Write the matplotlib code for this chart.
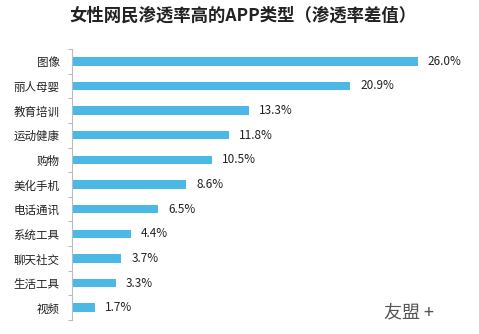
import matplotlib
matplotlib.use("Agg")
import matplotlib.pyplot as plt

plt.rcParams['font.family'] = ['Noto Sans CJK SC', 'DejaVu Sans']

# 女性网民渗透率高的APP类型
categories = ['图像', '丽人母婴', '教育培训', '运动健康', '购物', '美化手机',
              '电话通讯', '系统工具', '聊天社交', '生活工具', '视频']
values = [26.0, 20.9, 13.3, 11.8, 10.5, 8.6, 6.5, 4.4, 3.7, 3.3, 1.7]

bar_color = '#4cb8e6'

fig = plt.figure(figsize=(4.79, 3.34), dpi=100)
ax = fig.add_axes([72 / 479, 14 / 334, 400 / 479, 271 / 334])

y = list(range(len(categories)))
ax.barh(y, values, height=0.34, color=bar_color)
ax.set_ylim(len(categories) - 0.5, -0.5)
ax.set_xlim(0, 30.07)

for yi, v in zip(y, values):
    ax.text(v + 0.75, yi, f'{v:.1f}%', va='center', ha='left',
            fontsize=8.5, color='#222222')

ax.set_yticks(y)
ax.set_yticklabels(categories, fontsize=8.3, color='#222222')
ax.tick_params(axis='y', which='major', length=0, pad=9)
ax.set_yticks([i - 0.5 for i in range(len(categories) + 1)], minor=True)
ax.tick_params(axis='y', which='minor', length=3, color='#bbbbbb', width=0.8)
ax.set_xticks([])

for side in ['top', 'right', 'bottom']:
    ax.spines[side].set_visible(False)
ax.spines['left'].set_color('#bbbbbb')
ax.spines['left'].set_linewidth(0.8)

fig.text(0.507, 1 - 16 / 334, '女性网民渗透率高的APP类型（渗透率差值）',
         ha='center', va='center', fontsize=12.5, fontweight='bold',
         color='#222222')

# watermark
fig.text(384 / 479, 1 - 312 / 334, '友盟 +', ha='left', va='center',
         fontsize=13, color='#555555')

fig.savefig('out.png', dpi=100)
